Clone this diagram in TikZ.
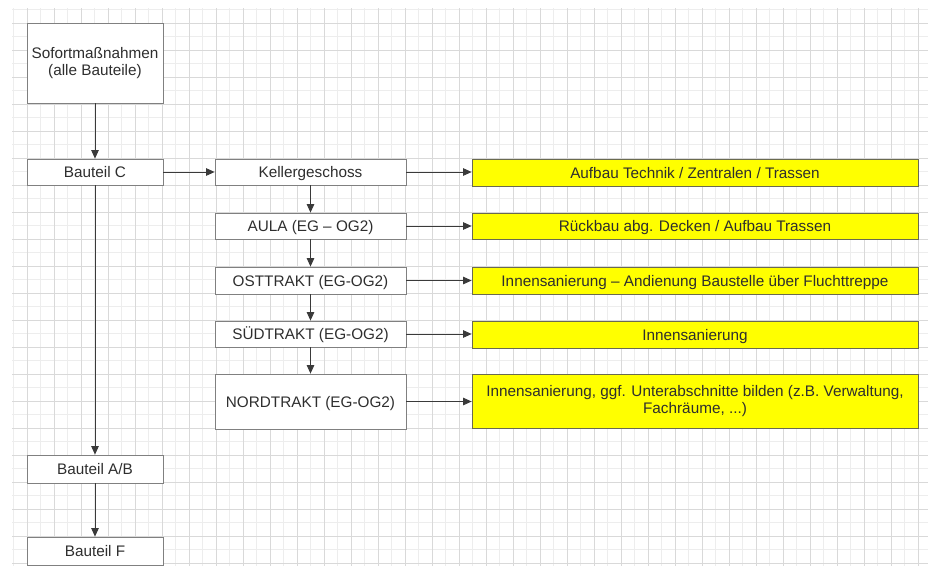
\documentclass[tikz,border=0pt]{standalone}
\usepackage{fontspec}
\setmainfont{Liberation Sans}
\usetikzlibrary{arrows.meta}
\definecolor{boxline}{HTML}{808080}
\definecolor{txt}{HTML}{2E2E2E}
\definecolor{yel}{HTML}{FFFF00}
\definecolor{yline}{HTML}{6A6A50}
\definecolor{arrcol}{HTML}{3A3A3A}
\begin{document}
\begin{tikzpicture}[x=1pt,y=-1pt,
  font=\fontsize{15.3}{17.5}\selectfont,
  gbox/.style={draw=boxline, line width=0.8pt, fill=white, text=txt, inner sep=0pt, minimum width=136pt},
  one/.style={text height=11pt, text depth=0pt},
  sbox/.style={gbox, minimum width=191pt},
  ybox/.style={draw=yline, line width=0.8pt, fill=yel, text=txt, inner sep=0pt, minimum width=446pt},
  arr/.style={draw=arrcol, line width=0.8pt, -{Triangle[length=8.5pt,width=7.5pt]}},
  majorline/.style={draw=black!15, line width=0.6pt},
  minorline/.style={draw=black!7, line width=0.5pt}]
\useasboundingbox (0,0) rectangle (928,566);
\fill[white] (0,0) rectangle (928,566);
% grid
\foreach \i in {0,...,34} {\draw[minorline] ({13.5+27*\i},8) -- ++(0,558);}
\foreach \i in {0,...,20} {\draw[minorline] (12,{9.5+27*\i}) -- ++(916,0);}
\foreach \i in {0,...,33} {\draw[majorline] ({27+27*\i},8) -- ++(0,558);}
\foreach \i in {0,...,20} {\draw[majorline] (12,{23+27*\i}) -- ++(916,0);}
% left column
\node[gbox, align=center, minimum height=80pt] (sof) at (95,63) {Sofortmaßnahmen\\(alle Bauteile)};
\node[gbox, one, minimum height=26pt] (bc) at (95,172) {Bauteil C};
\node[gbox, one, minimum height=28pt] (ab) at (95,469) {Bauteil A/B};
\node[gbox, one, minimum height=28pt] (bf) at (95,551) {Bauteil F};
% middle column
\node[sbox, one, minimum height=26pt] (kg) at (310.5,172) {Kellergeschoss};
\node[sbox, one, minimum height=26pt] (aula) at (310.5,226) {AULA (EG – OG2)};
\node[sbox, one, minimum height=27pt] (ost) at (310.5,280.5) {OSTTRAKT (EG-OG2)};
\node[sbox, one, minimum height=26pt] (sued) at (310.5,334) {SÜDTRAKT (EG-OG2)};
\node[sbox, one, minimum height=55pt] (nord) at (310.5,401.5) {NORDTRAKT (EG-OG2)};
% right column
\node[ybox, one, minimum height=27pt] (y1) at (695,172.5) {Aufbau Technik / Zentralen / Trassen};
\node[ybox, one, minimum height=26pt] (y2) at (695,226) {Rückbau abg. Decken / Aufbau Trassen};
\node[ybox, one, minimum height=27pt] (y3) at (695,280.5) {Innensanierung – Andienung Baustelle über Fluchttreppe};
\node[ybox, one, minimum height=27pt] (y4) at (695,334.5) {Innensanierung};
\node[ybox, align=center, minimum height=54pt] (y5) at (695,401) {Innensanierung, ggf. Unterabschnitte bilden (z.B. Verwaltung,\\Fachräume, ...)};
% connectors
\draw[arr] (sof) -- (bc);
\draw[arr] (bc) -- (kg);
\draw[arr] (bc) -- (ab);
\draw[arr] (ab) -- (bf);
\draw[arr] (kg) -- (aula);
\draw[arr] (aula) -- (ost);
\draw[arr] (ost) -- (sued);
\draw[arr] (sued) -- (nord);
\draw[arr] (kg) -- (kg -| y1.west);
\draw[arr] (aula) -- (aula -| y2.west);
\draw[arr] (ost) -- (ost -| y3.west);
\draw[arr] (sued) -- (sued -| y4.west);
\draw[arr] (nord) -- (nord -| y5.west);
\end{tikzpicture}
\end{document}
